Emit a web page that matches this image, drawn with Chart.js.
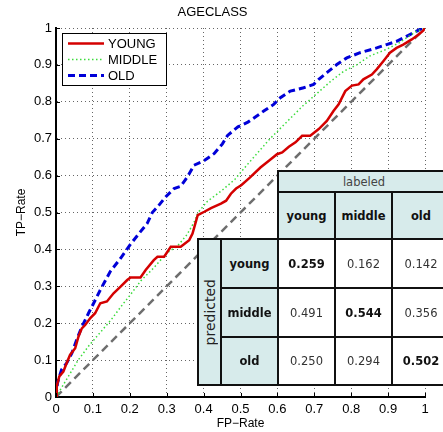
<!DOCTYPE html>
<html>
<head>
<meta charset="utf-8">
<script src="https://cdn.jsdelivr.net/npm/chart.js@4/dist/chart.umd.min.js"></script>
<style>
html, body { margin: 0; padding: 0; background: #fff; }
#wrap { position: relative; width: 443px; height: 432px; overflow: hidden; }
#rocChart { position: absolute; left: 0; top: 0; }
.cell { position: absolute; box-sizing: border-box; border: 2px solid #111; display: flex; align-items: center; justify-content: center; font-family: "DejaVu Sans", Verdana, sans-serif; font-size: 11.5px; color: #333; }
.head { background: #d7ebeb; font-weight: bold; color: #111; }
.label { background: #d7ebeb; color: #444; }
.val { background: #fff; }
.diag { font-weight: bold; color: #111; }
.rot { writing-mode: vertical-rl; transform: rotate(180deg); font-size: 14px; color: #222; }
</style>
</head>
<body>
<div id="wrap">
  <canvas id="rocChart" width="443" height="432"></canvas>
  <div id="confusion"></div>
</div>
<script>
// ROC-Kurven (FP-Rate / TP-Rate)
const youngFpr = [0, 0.002, 0.009, 0.02, 0.029, 0.038, 0.052, 0.061, 0.07, 0.079, 0.093, 0.106, 0.12, 0.138, 0.156, 0.175, 0.193, 0.202, 0.229, 0.243, 0.265, 0.275, 0.293, 0.311, 0.338, 0.361, 0.37, 0.384, 0.402, 0.42, 0.447, 0.461, 0.474, 0.488, 0.502, 0.526, 0.554, 0.577, 0.599, 0.613, 0.631, 0.649, 0.667, 0.689, 0.712, 0.734, 0.752, 0.766, 0.784, 0.802, 0.82, 0.833, 0.856, 0.869, 0.887, 0.905, 0.923, 0.941, 0.964, 0.982, 0.995, 1];
const youngTpr = [0, 0.029, 0.056, 0.069, 0.092, 0.114, 0.132, 0.164, 0.186, 0.195, 0.214, 0.227, 0.254, 0.259, 0.281, 0.299, 0.317, 0.324, 0.324, 0.344, 0.371, 0.38, 0.38, 0.407, 0.407, 0.425, 0.443, 0.493, 0.502, 0.512, 0.524, 0.532, 0.551, 0.565, 0.574, 0.595, 0.622, 0.64, 0.658, 0.663, 0.678, 0.69, 0.708, 0.708, 0.726, 0.748, 0.775, 0.793, 0.829, 0.844, 0.847, 0.861, 0.874, 0.888, 0.91, 0.933, 0.946, 0.955, 0.969, 0.982, 0.993, 1];

const middleFpr = [0, 0.03, 0.06, 0.09, 0.12, 0.15, 0.18, 0.2, 0.23, 0.265, 0.3, 0.33, 0.355, 0.375, 0.385, 0.41, 0.45, 0.485, 0.51, 0.545, 0.58, 0.62, 0.67, 0.71, 0.745, 0.78, 0.815, 0.85, 0.895, 0.93, 0.975, 1];
const middleTpr = [0, 0.05, 0.1, 0.14, 0.175, 0.21, 0.25, 0.275, 0.315, 0.35, 0.39, 0.41, 0.44, 0.475, 0.5, 0.53, 0.56, 0.59, 0.62, 0.66, 0.7, 0.74, 0.79, 0.825, 0.856, 0.883, 0.9, 0.924, 0.942, 0.96, 0.99, 1];

const oldFpr = [0, 0.004, 0.015, 0.029, 0.043, 0.056, 0.07, 0.088, 0.102, 0.12, 0.147, 0.175, 0.202, 0.229, 0.247, 0.261, 0.275, 0.297, 0.32, 0.338, 0.356, 0.374, 0.402, 0.429, 0.451, 0.465, 0.493, 0.52, 0.545, 0.563, 0.59, 0.608, 0.635, 0.671, 0.698, 0.712, 0.734, 0.761, 0.788, 0.824, 0.869, 0.896, 0.923, 0.959, 0.986, 1];
const oldTpr = [0, 0.038, 0.074, 0.092, 0.119, 0.155, 0.19, 0.227, 0.254, 0.29, 0.34, 0.376, 0.414, 0.448, 0.47, 0.5, 0.515, 0.542, 0.565, 0.571, 0.596, 0.628, 0.641, 0.66, 0.686, 0.709, 0.732, 0.745, 0.762, 0.775, 0.793, 0.811, 0.829, 0.838, 0.847, 0.861, 0.879, 0.901, 0.919, 0.933, 0.946, 0.955, 0.964, 0.982, 0.996, 1];

const chanceFpr = [0, 1];
const chanceTpr = [0, 1];

// Konfusionsmatrix
const classLabels = ['young', 'middle', 'old'];
const confusion = [
    [0.259, 0.162, 0.142],
    [0.491, 0.544, 0.356],
    [0.250, 0.294, 0.502]
];

const FONT = '"Liberation Sans", Arial, Helvetica, sans-serif';
Chart.defaults.font.family = FONT;
Chart.defaults.color = '#000';

function toPoints(xs, ys) {
    return xs.map((x, i) => ({ x: x, y: ys[i] }));
}

// 0, 0.1 ... 1 ohne ueberfluessige Nullen
function tickText(v) {
    return String(Math.round(v * 10) / 10);
}

// kleine Striche nach innen wie bei MATLAB
const innerTicks = {
    id: 'innerTicks',
    afterDatasetsDraw(chart) {
        const { ctx, scales } = chart;
        const xs = scales.x, ys = scales.y;
        ctx.save();
        ctx.strokeStyle = '#000';
        ctx.lineWidth = 1;
        ctx.beginPath();
        xs.ticks.forEach(t => {
            const px = Math.round(xs.getPixelForValue(t.value)) + 0.5;
            ctx.moveTo(px, ys.bottom);
            ctx.lineTo(px, ys.bottom - 4);
        });
        ys.ticks.forEach(t => {
            const py = Math.round(ys.getPixelForValue(t.value)) + 0.5;
            ctx.moveTo(xs.left, py);
            ctx.lineTo(xs.left + 4, py);
        });
        ctx.stroke();
        ctx.restore();
    }
};

// Legende im Plotbereich oben links
const boxLegend = {
    id: 'boxLegend',
    afterDatasetsDraw(chart) {
        const { ctx, chartArea } = chart;
        const x = chartArea.left + 6, y = chartArea.top + 5, w = 104, h = 52;
        ctx.save();
        ctx.fillStyle = '#fff';
        ctx.fillRect(x, y, w, h);
        ctx.strokeStyle = '#000';
        ctx.lineWidth = 1;
        ctx.strokeRect(x + 0.5, y + 0.5, w, h);
        chart.data.datasets.filter(ds => ds.label).forEach((ds, i) => {
            const ly = y + 10.5 + i * 16;
            ctx.strokeStyle = ds.borderColor;
            ctx.lineWidth = ds.borderWidth;
            ctx.setLineDash(ds.borderDash || []);
            ctx.beginPath();
            ctx.moveTo(x + 6, ly);
            ctx.lineTo(x + 42, ly);
            ctx.stroke();
            ctx.setLineDash([]);
            ctx.fillStyle = '#000';
            ctx.font = '13px ' + FONT;
            ctx.textBaseline = 'middle';
            ctx.fillText(ds.label, x + 46, ly + 0.5);
        });
        ctx.restore();
    }
};

const ctx = document.getElementById('rocChart').getContext('2d');
const chart = new Chart(ctx, {
    type: 'line',
    data: {
        datasets: [{
            label: 'YOUNG',
            data: toPoints(youngFpr, youngTpr),
            borderColor: '#d40000',
            borderWidth: 2.5,
            pointRadius: 0,
            tension: 0
        }, {
            label: 'MIDDLE',
            data: toPoints(middleFpr, middleTpr),
            borderColor: '#3cdc3c',
            borderWidth: 1.5,
            borderDash: [1.5, 2.5],
            pointRadius: 0,
            tension: 0
        }, {
            label: 'OLD',
            data: toPoints(oldFpr, oldTpr),
            borderColor: '#0000d8',
            borderWidth: 3,
            borderDash: [7, 4],
            pointRadius: 0,
            tension: 0
        }, {
            label: '',
            data: toPoints(chanceFpr, chanceTpr),
            borderColor: '#6e6e6e',
            borderWidth: 2.5,
            borderDash: [8, 5],
            pointRadius: 0,
            tension: 0
        }]
    },
    options: {
        responsive: false,
        animation: false,
        events: [],
        layout: { padding: { top: 0, right: 18, bottom: 0, left: 0 } },
        plugins: {
            legend: { display: false },
            tooltip: { enabled: false },
            title: {
                display: true,
                text: 'AGECLASS',
                color: '#000',
                font: { size: 13, weight: 'normal' },
                padding: { top: 5, bottom: 7.4 }
            }
        },
        scales: {
            x: {
                type: 'linear',
                min: 0,
                max: 1,
                ticks: { stepSize: 0.1, padding: 5, maxRotation: 0, color: '#000', font: { size: 13 }, callback: tickText },
                grid: { color: 'rgba(0,0,0,0.6)', lineWidth: 1, drawTicks: false },
                border: { color: '#000', width: 2, dash: [1, 3] },
                title: { display: true, text: 'FP\u2212Rate', color: '#000', font: { size: 12 }, padding: { top: 0, bottom: 1 } },
                afterFit: s => { s.height = 35; }
            },
            y: {
                type: 'linear',
                min: 0,
                max: 1,
                ticks: { stepSize: 0.1, padding: 4, color: '#000', font: { size: 13 }, callback: tickText },
                grid: { color: 'rgba(0,0,0,0.6)', lineWidth: 1, drawTicks: false },
                border: { color: '#000', width: 2, dash: [1, 3] },
                title: { display: true, text: 'TP\u2212Rate', color: '#000', font: { size: 12 }, padding: { top: 14, bottom: 0 } },
                afterFit: s => { s.width = 56; }
            }
        }
    },
    plugins: [innerTicks, boxLegend]
});

// Tabelle unten rechts
const colX = [198, 221, 278, 335, 392, 450];
const rowY = [171, 192, 239, 288, 337, 385];
const box = document.getElementById('confusion');

function addCell(c0, c1, r0, r1, text, cls) {
    const d = document.createElement('div');
    d.className = 'cell ' + cls;
    d.style.left = (colX[c0] - 1) + 'px';
    d.style.top = (rowY[r0] - 1) + 'px';
    d.style.width = (colX[c1] - colX[c0] + 2) + 'px';
    d.style.height = (rowY[r1] - rowY[r0] + 2) + 'px';
    const s = document.createElement('span');
    s.textContent = text;
    if (cls.indexOf('rotated') >= 0) s.className = 'rot';
    d.appendChild(s);
    box.appendChild(d);
}

addCell(2, 5, 0, 1, 'labeled', 'label');
addCell(0, 1, 2, 5, 'predicted', 'label rotated');
classLabels.forEach((c, j) => addCell(2 + j, 3 + j, 1, 2, c, 'head'));
classLabels.forEach((c, i) => addCell(1, 2, 2 + i, 3 + i, c, 'head'));
confusion.forEach((row, i) => {
    row.forEach((v, j) => {
        addCell(2 + j, 3 + j, 2 + i, 3 + i, v.toFixed(3), i === j ? 'val diag' : 'val');
    });
});
</script>
</body>
</html>
